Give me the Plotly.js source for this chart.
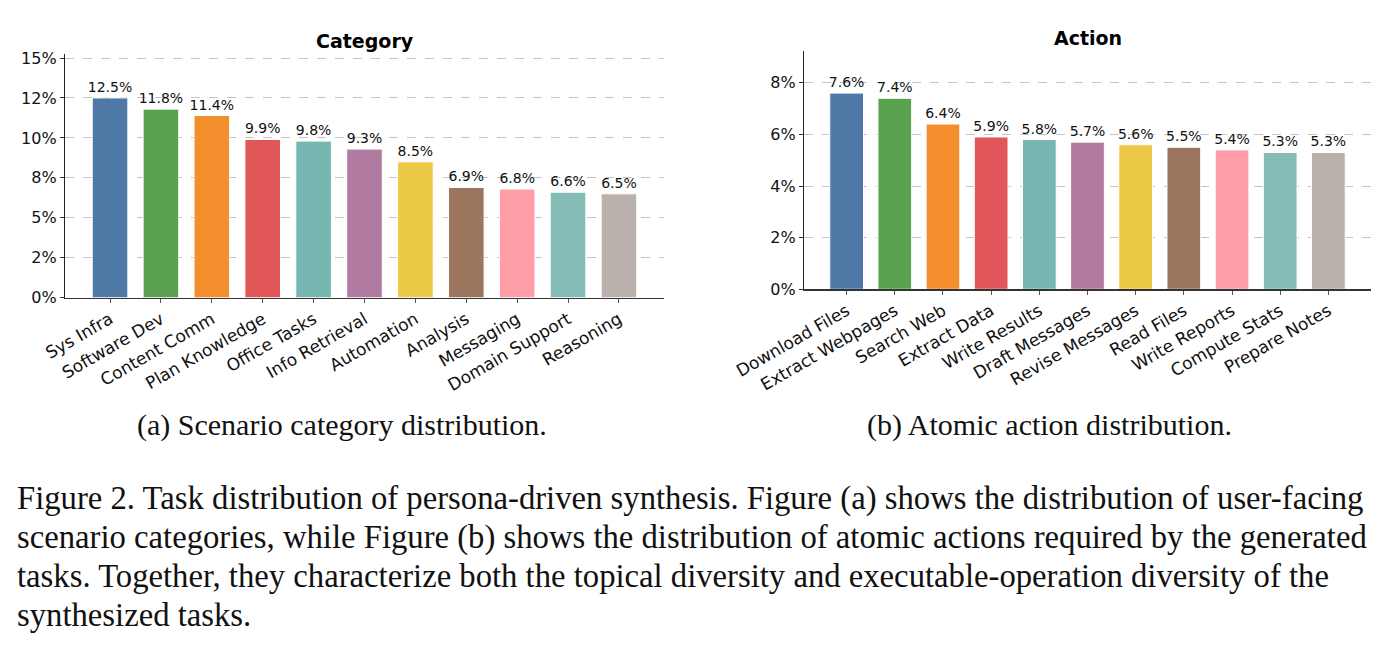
<!DOCTYPE html>
<html>
<head>
<meta charset="utf-8">
<script src="https://cdn.plot.ly/plotly-3.0.1.min.js"></script>
<style>
html,body{margin:0;padding:0;background:#fff;}
#chart{width:1399px;height:649px;}
</style>
</head>
<body>
<div id="chart"></div>
<script>
// ---- data ----
const categoryLabels = ["Sys Infra","Software Dev","Content Comm","Plan Knowledge","Office Tasks","Info Retrieval","Automation","Analysis","Messaging","Domain Support","Reasoning"];
const categoryValues = [12.5,11.8,11.4,9.9,9.8,9.3,8.5,6.9,6.8,6.6,6.5];
const actionLabels = ["Download Files","Extract Webpages","Search Web","Extract Data","Write Results","Draft Messages","Revise Messages","Read Files","Write Reports","Compute Stats","Prepare Notes"];
const actionValues = [7.6,7.4,6.4,5.9,5.8,5.7,5.6,5.5,5.4,5.3,5.3];
const categoryTickVals = [0,2.5,5,7.5,10,12.5,15];
const categoryTickText = ["0%","2%","5%","8%","10%","12%","15%"];
const actionTickVals = [0,2,4,6,8];
const actionTickText = ["0%","2%","4%","6%","8%"];
const barColors = ["#4e79a7","#59a14f","#f28e2b","#e15759","#76b7b2","#b07aa1","#edc948","#9c755f","#ff9da7","#86bcb6","#bab0ac"];
const captionLines = [
  "Figure 2. Task distribution of persona-driven synthesis. Figure (a) shows the distribution of user-facing",
  "scenario categories, while Figure (b) shows the distribution of atomic actions required by the generated",
  "tasks. Together, they characterize both the topical diversity and executable-operation diversity of the",
  "synthesized tasks."
];

const W = 1399, H = 649;
const px = x => x / W;
const py = y => 1 - y / H;
const sans = "DejaVu Sans, sans-serif";
const serif = "Liberation Serif, Times New Roman, serif";

function barTrace(labels, values, xa, ya) {
  return {
    type: "bar",
    x: labels.map((_, i) => i),
    y: values,
    width: 0.7,
    xaxis: xa, yaxis: ya,
    marker: {color: barColors, line: {color: "#ffffff", width: 1}},
    text: values.map(v => v.toFixed(1) + "%"),
    textposition: "outside",
    textfont: {family: sans, size: 14, color: "#111"},
    cliponaxis: false,
    constraintext: "none",
    hoverinfo: "skip"
  };
}

const data = [
  barTrace(categoryLabels, categoryValues, "x", "y"),
  barTrace(actionLabels, actionValues, "x2", "y2")
];

function xAxis(domain, labels, anchor) {
  return {
    domain: domain, anchor: anchor,
    range: [-0.885, labels.length - 1 + 0.885],
    tickvals: labels.map((_, i) => i), ticktext: labels,
    tickangle: -30,
    tickfont: {family: sans, size: 17, color: "#111"},
    ticks: "outside", ticklen: 4, tickcolor: "#555", tickwidth: 1,
    showline: true, linecolor: "#333", linewidth: 1.2,
    showgrid: false, zeroline: false, fixedrange: true
  };
}
function yAxis(domain, vals, text, maxv, anchor) {
  return {
    domain: domain, anchor: anchor,
    range: [0, maxv],
    tickvals: vals, ticktext: text,
    tickfont: {family: sans, size: 16, color: "#111"},
    ticks: "outside", ticklen: 4, tickcolor: "#333", tickwidth: 1,
    showline: true, linecolor: "#222", linewidth: 1.2,
    showgrid: true, gridcolor: "#b5b5b5", griddash: "dash", gridwidth: 0.8,
    zeroline: false, fixedrange: true
  };
}

const annotations = [
  {text: "<b>Category</b>", x: px(364.5), y: py(41), xref: "paper", yref: "paper", showarrow: false,
   font: {family: sans, size: 19, color: "#000"}, xanchor: "center", yanchor: "middle"},
  {text: "<b>Action</b>", x: px(1087.5), y: py(38), xref: "paper", yref: "paper", showarrow: false,
   font: {family: sans, size: 19, color: "#000"}, xanchor: "center", yanchor: "middle"},
  {text: "(a) Scenario category distribution.", x: px(342), y: py(425), xref: "paper", yref: "paper", showarrow: false,
   font: {family: serif, size: 30, color: "#111"}, xanchor: "center", yanchor: "middle"},
  {text: "(b) Atomic action distribution.", x: px(1049), y: py(425), xref: "paper", yref: "paper", showarrow: false,
   font: {family: serif, size: 30, color: "#111"}, xanchor: "center", yanchor: "middle"}
];
const lineY = [498, 537, 576, 615];
captionLines.forEach((t, i) => {
  annotations.push({text: t, x: px(15), y: py(lineY[i]), xref: "paper", yref: "paper", showarrow: false,
    font: {family: serif, size: 32.7, color: "#111"}, xanchor: "left", yanchor: "middle"});
});

const layout = {
  width: W, height: H,
  margin: {l: 0, r: 0, t: 0, b: 0},
  paper_bgcolor: "#fff", plot_bgcolor: "#fff",
  showlegend: false,
  bargap: 0.3,
  xaxis: xAxis([px(65), px(664)], categoryLabels, "y"),
  yaxis: yAxis([py(297.7), py(54)], categoryTickVals, categoryTickText, 15.25, "x"),
  xaxis2: xAxis([px(804), px(1371)], actionLabels, "y2"),
  yaxis2: yAxis([py(289.3), py(51)], actionTickVals, actionTickText, 9.23, "x2"),
  annotations: annotations
};

Plotly.newPlot("chart", data, layout, {staticPlot: true, displayModeBar: false});
</script>
</body>
</html>
